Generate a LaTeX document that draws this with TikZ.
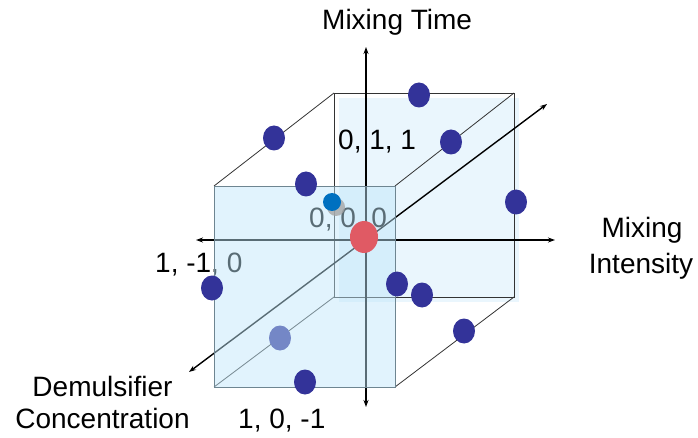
\documentclass[tikz,border=0pt]{standalone}
\usepackage{fontspec}
\setmainfont{Liberation Sans}
\usetikzlibrary{shapes.geometric,arrows.meta}
\definecolor{dotblue}{HTML}{333399}
\definecolor{dotred}{HTML}{E05A64}
\definecolor{dotcyan}{HTML}{0070C0}
\definecolor{backfill}{HTML}{EAF6FD}
\definecolor{frontfill}{HTML}{BFE6FA}
\definecolor{frontedge}{HTML}{6E8591}
\tikzset{
  lbl/.style={font=\fontsize{28}{33}\selectfont, inner sep=0pt, text=black},
  axis/.style={line width=1.4pt, {Stealth[length=7pt,width=5pt]}-{Stealth[length=7pt,width=5pt]}},
  edge/.style={line width=0.8pt, black!80},
  dotstyle/.style={ellipse, minimum width=22pt, minimum height=25pt, inner sep=0pt, draw=none, fill=dotblue},
}
\begin{document}
\begin{tikzpicture}[x=1pt,y=-1pt]
\useasboundingbox (0,0) rectangle (698,438);
% cube corners
\coordinate (F1) at (214,186); \coordinate (F2) at (395,186);
\coordinate (F3) at (395,387); \coordinate (F4) at (214,387);
\coordinate (B1) at (334,93);  \coordinate (B2) at (514,93);
\coordinate (B3) at (514,297); \coordinate (B4) at (334,297);
% back face
\fill[backfill] (339,98) rectangle (519,302);
\draw[edge] (B1) -- (B2) -- (B3) -- (B4) -- cycle;
\draw[edge] (F1) -- (B1);
\draw[edge] (F2) -- (B2);
\draw[edge] (F3) -- (B3);
\draw[edge] (F4) -- (B4);
% axes
\coordinate (xl) at (196,240); \coordinate (xr) at (555,240);
\coordinate (yt) at (366,47);  \coordinate (yb) at (366,407);
\coordinate (zl) at (189,372); \coordinate (zr) at (547,104);
\draw[axis] (xl) -- (xr);
\draw[axis] (yb) -- (yt);
\draw[axis] (zl) -- (zr);
% items behind front face
\node[lbl, anchor=base west] (c000) at (309,228) {0, 0, 0};
\node[lbl, anchor=base west] (c1m10) at (155,272) {1, -1, 0};
\node[dotstyle] (d11) at (280,338) {};
% front face
\fill[frontfill, opacity=0.47] (F1) rectangle (F3);
\draw[line width=0.8pt, frontedge] (F1) -- (F2) -- (F3) -- (F4) -- cycle;
% labels
\node[lbl, anchor=base west] (tTime) at (322,30) {Mixing Time};
\node[lbl, anchor=base] (tInt1) at (642,238) {Mixing};
\node[lbl, anchor=base] (tInt2) at (641,273) {Intensity};
\node[lbl, anchor=base] (tDem1) at (102.5,396) {Demulsifier};
\node[lbl, anchor=base] (tDem2) at (102.5,428) {Concentration};
\node[lbl, anchor=base west] (c10m1) at (238,428) {1, 0, -1};
\node[lbl, anchor=base west] (c011) at (338,150) {0, 1, 1};
% dots
\node[dotstyle] (d1) at (419,95) {};
\node[dotstyle] (d2) at (274,138) {};
\node[dotstyle] (d3) at (451,142) {};
\node[dotstyle] (d4) at (306,184) {};
\node[dotstyle] (d5) at (516,202) {};
\node[dotstyle] (d6) at (212,288) {};
\node[dotstyle] (d7) at (397,284) {};
\node[dotstyle] (d8) at (422,295) {};
\node[dotstyle] (d9) at (464,331) {};
\node[dotstyle] (d10) at (305,382) {};
\node[circle, minimum size=18pt, inner sep=0pt, fill=black!35, opacity=0.8] (sh) at (336,207) {};
\node[circle, minimum size=18pt, inner sep=0pt, fill=dotcyan] (d12) at (332,202) {};
\node[ellipse, minimum width=28pt, minimum height=32pt, inner sep=0pt, fill=dotred] (d13) at (364,237) {};
\end{tikzpicture}
\end{document}
